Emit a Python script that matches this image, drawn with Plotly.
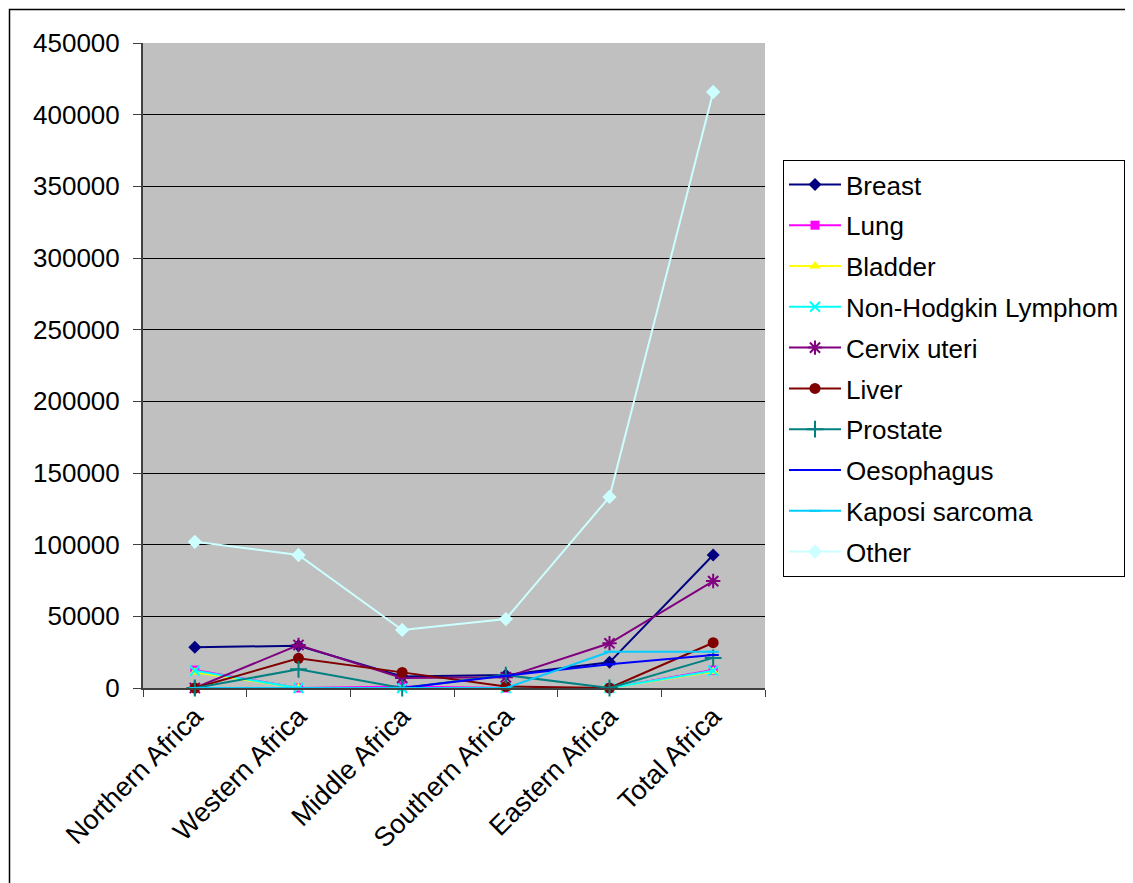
import plotly.graph_objects as go

categories = ["Northern Africa", "Western Africa", "Middle Africa", "Southern Africa", "Eastern Africa", "Total Africa"]

breast = [28400, 29500, 8000, 9000, 17900, 92800]
lung = [12500, 0, 1000, 0, 0, 12500]
bladder = [11000, 0, 0, 0, 0, 11500]
nhl = [12000, 0, 0, 0, 0, 12000]
cervix = [0, 30000, 7000, 7500, 31200, 74600]
liver = [0, 20700, 10900, 1000, 0, 31600]
prostate = [0, 13000, 0, 9000, 0, 21000]
oesophagus = [0, 0, 0, 8500, 16500, 23000]
kaposi = [0, 0, 0, 0, 25300, 25300]
other = [102000, 92800, 40500, 48100, 133300, 415800]

series = [
    ("Breast", breast, "#000080", "diamond", 10),
    ("Lung", lung, "#FF00FF", "square", 9),
    ("Bladder", bladder, "#FFFF00", "triangle-up", 10),
    ("Non-Hodgkin Lymphom", nhl, "#00FFFF", "x-thin-open", 10),
    ("Cervix uteri", cervix, "#800080", "asterisk-open", 12),
    ("Liver", liver, "#800000", "circle", 11),
    ("Prostate", prostate, "#008080", "cross-thin-open", 12),
    ("Oesophagus", oesophagus, "#0000FF", "line-ew-open", 8),
    ("Kaposi sarcoma", kaposi, "#00CCFF", "line-ew-open", 8),
    ("Other", other, "#CCFFFF", "diamond", 11),
]

fig = go.Figure()
for i, (name, vals, color, sym, size) in enumerate(series):
    open_sym = sym.endswith("open")
    fig.add_trace(go.Scatter(
        x=categories, y=vals, name=name, mode="lines+markers",
        legendgroup=f"g{i}",
        line=dict(color=color, width=2),
        marker=dict(symbol=sym, size=size, color=color,
                    line=dict(color=color, width=2 if open_sym else 0)),
        cliponaxis=False,
    ))

OFF = 8  # page offset of the figure in the screenshot
L, R, T, B = 143, 765, 43, 688  # plot area in screen pixels

def px_x(px):
    return (px - L) / (R - L)

def px_y(py):
    return (B - py) / (B - T)

fig.update_layout(
    width=1133, height=883,
    margin=dict(l=L - OFF, r=1133 + OFF - R, t=T - OFF, b=883 + OFF - B),
    paper_bgcolor="white",
    plot_bgcolor="#C0C0C0",
    font=dict(family="Liberation Sans, Arial, sans-serif", size=26, color="black"),
    showlegend=True,
    legend=dict(
        x=px_x(783), y=px_y(160), xanchor="left", yanchor="top",
        bgcolor="white", bordercolor="black", borderwidth=1,
        font=dict(size=26), traceorder="grouped", tracegroupgap=4,
        itemwidth=52,
    ),
    xaxis=dict(
        type="category", range=[-0.5, 5.5], tickangle=-45,
        showgrid=False, showline=True, linecolor="#404040", linewidth=2,
        ticks="outside", ticklen=7, tickcolor="#404040", tickson="boundaries",
        tickfont=dict(size=27), mirror=False, zeroline=False,
    ),
    yaxis=dict(
        range=[0, 450000], dtick=50000, tickformat="d",
        showgrid=True, gridcolor="black", gridwidth=1,
        showline=True, linecolor="#404040", linewidth=2,
        ticks="outside", ticklen=8, tickcolor="#404040",
        ticklabelstandoff=8,
        tickfont=dict(size=26), zeroline=False,
    ),
    shapes=[
        dict(type="rect", xref="paper", yref="paper",
             x0=px_x(9.5), x1=px_x(1150), y0=px_y(900), y1=px_y(9.5),
             line=dict(color="black", width=1.5), fillcolor="rgba(0,0,0,0)", layer="below"),
    ],
)

fig.write_html("out.html")
